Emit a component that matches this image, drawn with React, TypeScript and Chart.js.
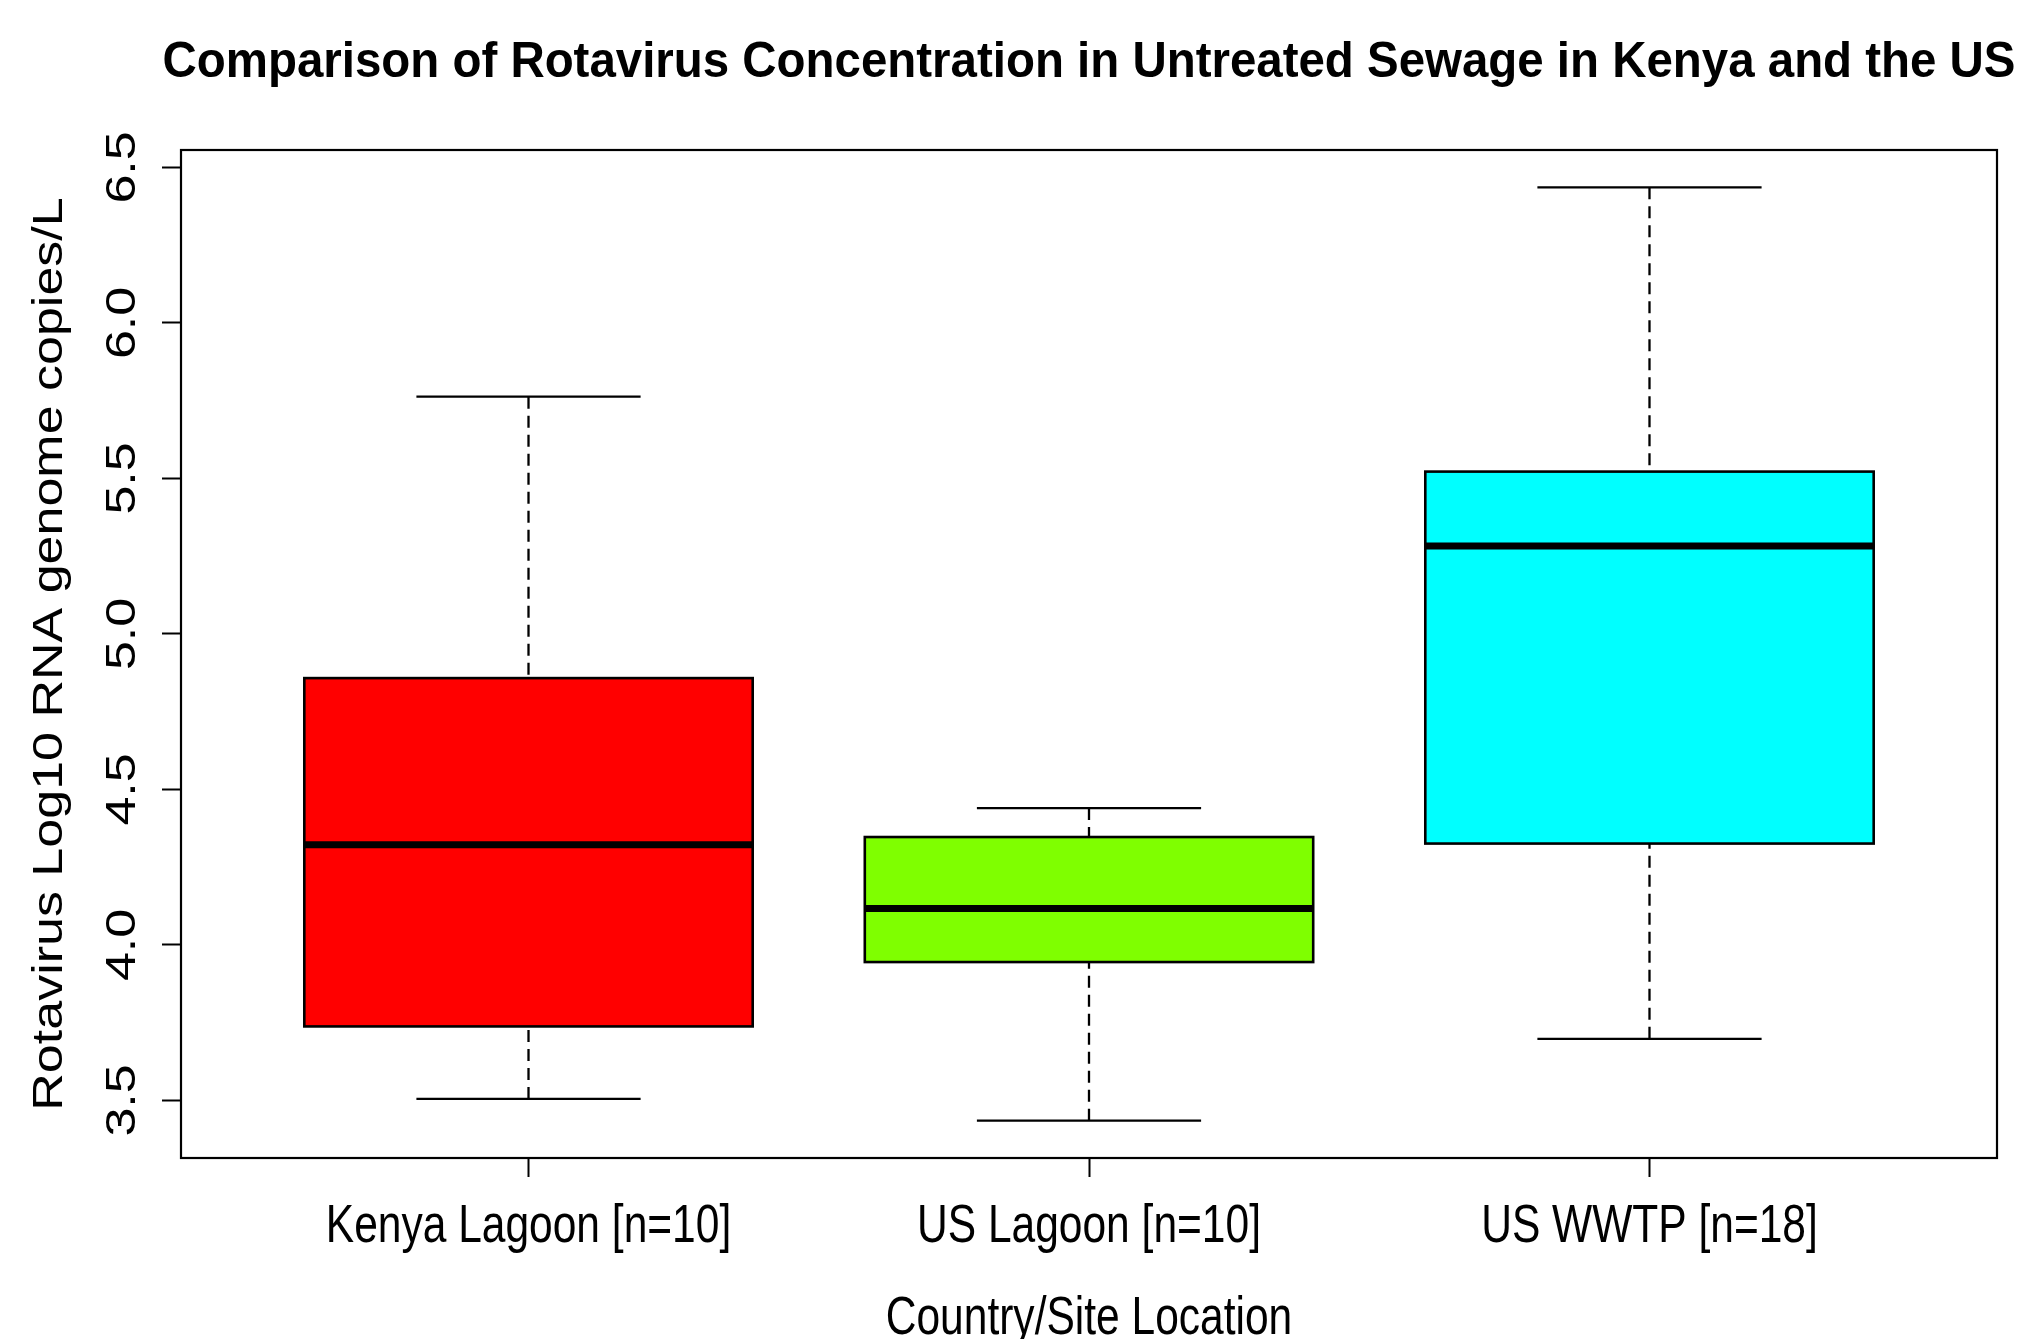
import React, { useEffect, useRef } from "react";
import { Chart, registerables } from "chart.js";

Chart.register(...registerables);

const chartTitle = "Comparison of Rotavirus Concentration in Untreated Sewage in Kenya and the US";
const xAxisTitle = "Country/Site Location";
const yAxisTitle = "Rotavirus Log10 RNA genome copies/L";

const categories = ["Kenya Lagoon [n=10]", "US Lagoon [n=10]", "US WWTP [n=18]"];
const whiskerLow = [3.505, 3.435, 3.698];
const q1 = [3.738, 3.945, 4.326];
const medians = [4.322, 4.117, 5.283];
const q3 = [4.858, 4.347, 5.522];
const whiskerHigh = [5.763, 4.44, 6.436];
const boxColors = ["#FF0000", "#7FFF00", "#00FFFF"];

const yTickValues = [3.5, 4.0, 4.5, 5.0, 5.5, 6.0, 6.5];
const yTickLabels = ["3.5", "4.0", "4.5", "5.0", "5.5", "6.0", "6.5"];

const dataMin = Math.min(...whiskerLow);
const dataMax = Math.max(...whiskerHigh);
const yPad = 0.04 * (dataMax - dataMin);
const xPad = 0.04 * categories.length;

function drawText(
  ctx: CanvasRenderingContext2D,
  text: string,
  x: number,
  y: number,
  font: string,
  sx: number,
  sy: number,
  rot: number
) {
  ctx.save();
  ctx.translate(x, y);
  ctx.rotate(rot);
  ctx.scale(sx, sy);
  ctx.font = font;
  ctx.textAlign = "center";
  ctx.textBaseline = "alphabetic";
  ctx.fillStyle = "#000";
  ctx.fillText(text, 0, 0);
  ctx.restore();
}

const rBoxPlugin = {
  id: "rBoxPlugin",
  afterDatasetsDraw(chart: any) {
    const { ctx, chartArea, scales } = chart;
    const xs = scales.x;
    const ys = scales.y;
    ctx.save();
    ctx.strokeStyle = "#000";
    ctx.lineCap = "butt";
    categories.forEach((_, i) => {
      const cx = xs.getPixelForValue(i + 1);
      const capL = xs.getPixelForValue(i + 1 - 0.2);
      const capR = xs.getPixelForValue(i + 1 + 0.2);
      const boxL = xs.getPixelForValue(i + 1 - 0.4);
      const boxR = xs.getPixelForValue(i + 1 + 0.4);
      const yLo = ys.getPixelForValue(whiskerLow[i]);
      const yQ1 = ys.getPixelForValue(q1[i]);
      const yMed = ys.getPixelForValue(medians[i]);
      const yQ3 = ys.getPixelForValue(q3[i]);
      const yHi = ys.getPixelForValue(whiskerHigh[i]);

      // whiskers (dashed)
      ctx.lineWidth = 2.3;
      ctx.setLineDash([12, 7]);
      ctx.beginPath();
      ctx.moveTo(cx, yHi);
      ctx.lineTo(cx, yQ3);
      ctx.moveTo(cx, yLo);
      ctx.lineTo(cx, yQ1);
      ctx.stroke();
      ctx.setLineDash([]);

      // caps
      ctx.beginPath();
      ctx.moveTo(capL, yHi);
      ctx.lineTo(capR, yHi);
      ctx.moveTo(capL, yLo);
      ctx.lineTo(capR, yLo);
      ctx.stroke();

      // box outline
      ctx.lineWidth = 2.6;
      ctx.strokeRect(boxL, yQ3, boxR - boxL, yQ1 - yQ3);

      // median
      ctx.lineWidth = 7;
      ctx.beginPath();
      ctx.moveTo(boxL, yMed);
      ctx.lineTo(boxR, yMed);
      ctx.stroke();
    });

    // plot frame
    ctx.lineWidth = 2.2;
    ctx.strokeRect(
      chartArea.left,
      chartArea.top,
      chartArea.right - chartArea.left,
      chartArea.bottom - chartArea.top
    );
    ctx.restore();
  },
  afterDraw(chart: any) {
    const { ctx, chartArea, scales } = chart;
    const xs = scales.x;
    const ys = scales.y;
    const midX = (chartArea.left + chartArea.right) / 2;
    const midY = (chartArea.top + chartArea.bottom) / 2;

    // title (bold, condensed to fit)
    ctx.save();
    const titleFont = "bold 50px 'Liberation Sans', Arial, sans-serif";
    ctx.font = titleFont;
    const tw = ctx.measureText(chartTitle).width;
    ctx.restore();
    const titleSx = 1853 / tw;
    drawText(ctx, chartTitle, midX, 77, titleFont, titleSx, 1, 0);

    const labelFont = "54.5px 'Liberation Sans', Arial, sans-serif";
    // x tick labels
    categories.forEach((c, i) => {
      drawText(ctx, c, xs.getPixelForValue(i + 1), 1242, labelFont, 0.78, 1, 0);
    });
    // x axis title
    drawText(ctx, xAxisTitle, midX, 1334, labelFont, 0.78, 1, 0);

    const rotFont = "52px 'Liberation Sans', Arial, sans-serif";
    // y tick labels (rotated)
    yTickValues.forEach((v, i) => {
      drawText(ctx, yTickLabels[i], 135, ys.getPixelForValue(v), rotFont, 1, 0.8, -Math.PI / 2);
    });
    // y axis title
    drawText(ctx, yAxisTitle, 62, midY, rotFont, 1, 0.8, -Math.PI / 2);
  },
};

export default function App() {
  const canvasRef = useRef<HTMLCanvasElement | null>(null);

  useEffect(() => {
    if (!canvasRef.current) return;
    const chart = new Chart(canvasRef.current, {
      type: "bar",
      data: {
        datasets: [
          {
            label: "IQR",
            data: categories.map((_, i) => ({ x: i + 1, y: [q1[i], q3[i]] })) as any,
            backgroundColor: boxColors,
            borderWidth: 0,
            categoryPercentage: 1,
            barPercentage: 0.8,
          },
        ],
      },
      options: {
        animation: false,
        responsive: false,
        maintainAspectRatio: false,
        devicePixelRatio: 1,
        layout: { padding: { left: 141, top: 150, right: 27, bottom: 141 } },
        plugins: {
          legend: { display: false },
          tooltip: { enabled: false },
          title: { display: false },
        },
        scales: {
          x: {
            type: "linear",
            offset: false,
            min: 0.5 - xPad,
            max: categories.length + 0.5 + xPad,
            border: { display: false },
            grid: {
              offset: false,
              display: true,
              drawOnChartArea: false,
              drawTicks: true,
              tickLength: 19,
              tickColor: "#000",
              tickWidth: 2,
            },
            ticks: { display: false },
            afterBuildTicks: (scale: any) => {
              scale.ticks = categories.map((_, i) => ({ value: i + 1 }));
            },
            afterFit: (scale: any) => {
              scale.height = 40;
            },
          },
          y: {
            type: "linear",
            min: dataMin - yPad,
            max: dataMax + yPad,
            beginAtZero: false,
            border: { display: false },
            grid: {
              display: true,
              drawOnChartArea: false,
              drawTicks: true,
              tickLength: 19,
              tickColor: "#000",
              tickWidth: 2,
            },
            ticks: { display: false },
            afterBuildTicks: (scale: any) => {
              scale.ticks = yTickValues.map((v) => ({ value: v }));
            },
            afterFit: (scale: any) => {
              scale.width = 40;
            },
          },
        },
      } as any,
      plugins: [rBoxPlugin],
    });
    return () => chart.destroy();
  }, []);

  return (
    <div style={{ position: "absolute", left: 0, top: 0, width: 2024, height: 1339, background: "#fff" }}>
      <canvas ref={canvasRef} width={2024} height={1339} style={{ display: "block", width: 2024, height: 1339 }} />
    </div>
  );
}
